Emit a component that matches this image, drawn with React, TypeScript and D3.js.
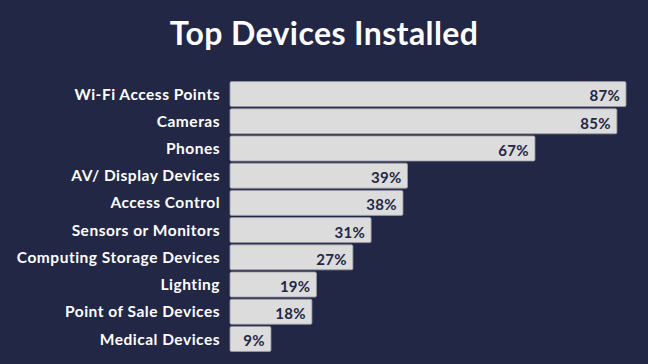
import React, { useRef, useEffect } from 'react';
import * as d3 from 'd3';

const categories = [
  'Wi-Fi Access Points',
  'Cameras',
  'Phones',
  'AV/ Display Devices',
  'Access Control',
  'Sensors or Monitors',
  'Computing Storage Devices',
  'Lighting',
  'Point of Sale Devices',
  'Medical Devices',
];
const values = [87, 85, 67, 39, 38, 31, 27, 19, 18, 9];

const W = 648;
const H = 364;
const BG = '#222745';

export default function App() {
  const svgRef = useRef<SVGSVGElement>(null);

  useEffect(() => {
    if (!svgRef.current) return;
    const svg = d3.select(svgRef.current);
    svg.selectAll('*').remove();

    svg.append('rect').attr('width', W).attr('height', H).attr('fill', BG);

    svg
      .append('text')
      .attr('x', W / 2)
      .attr('y', 45)
      .attr('text-anchor', 'middle')
      .attr('fill', '#ffffff')
      .attr('font-family', 'Lato, sans-serif')
      .attr('font-weight', 'bold')
      .attr('font-size', 32)
      .attr('letter-spacing', 0.4)
      .text('Top Devices Installed');

    const x = d3.scaleLinear().domain([0, 87]).range([230, 626]);
    const y = d3.scaleBand().domain(categories).range([81, 352]).paddingInner(0.08).paddingOuter(0.02);

    const data = categories.map((c, i) => ({ name: c, value: values[i] }));

    const row = svg.selectAll('.row').data(data).enter().append('g').attr('class', 'row');

    row
      .append('rect')
      .attr('x', x(0))
      .attr('y', (d) => y(d.name)!)
      .attr('width', (d) => x(d.value) - x(0))
      .attr('height', y.bandwidth())
      .attr('rx', 1.5)
      .attr('fill', '#dcdcdc')
      .attr('stroke', '#9a9aa4')
      .attr('stroke-width', 0.8);

    row
      .append('text')
      .attr('x', 220)
      .attr('y', (d) => y(d.name)! + y.bandwidth() / 2)
      .attr('dy', '0.36em')
      .attr('text-anchor', 'end')
      .attr('fill', '#ffffff')
      .attr('font-family', 'Lato, sans-serif')
      .attr('font-weight', 'bold')
      .attr('font-size', 15.5)
      .attr('letter-spacing', 0.5)
      .text((d) => d.name);

    row
      .append('text')
      .attr('x', (d) => x(d.value) - 6)
      .attr('y', (d) => y(d.name)! + y.bandwidth() / 2 + 2)
      .attr('dy', '0.36em')
      .attr('text-anchor', 'end')
      .attr('fill', BG)
      .attr('font-family', 'Lato, sans-serif')
      .attr('font-weight', 'bold')
      .attr('font-size', 15)
      .attr('letter-spacing', 0.3)
      .text((d) => `${d.value}%`);
  }, []);

  return (
    <div style={{ position: 'fixed', left: 0, top: 0 }}>
      <svg ref={svgRef} width={W} height={H} style={{ display: 'block' }} />
    </div>
  );
}
